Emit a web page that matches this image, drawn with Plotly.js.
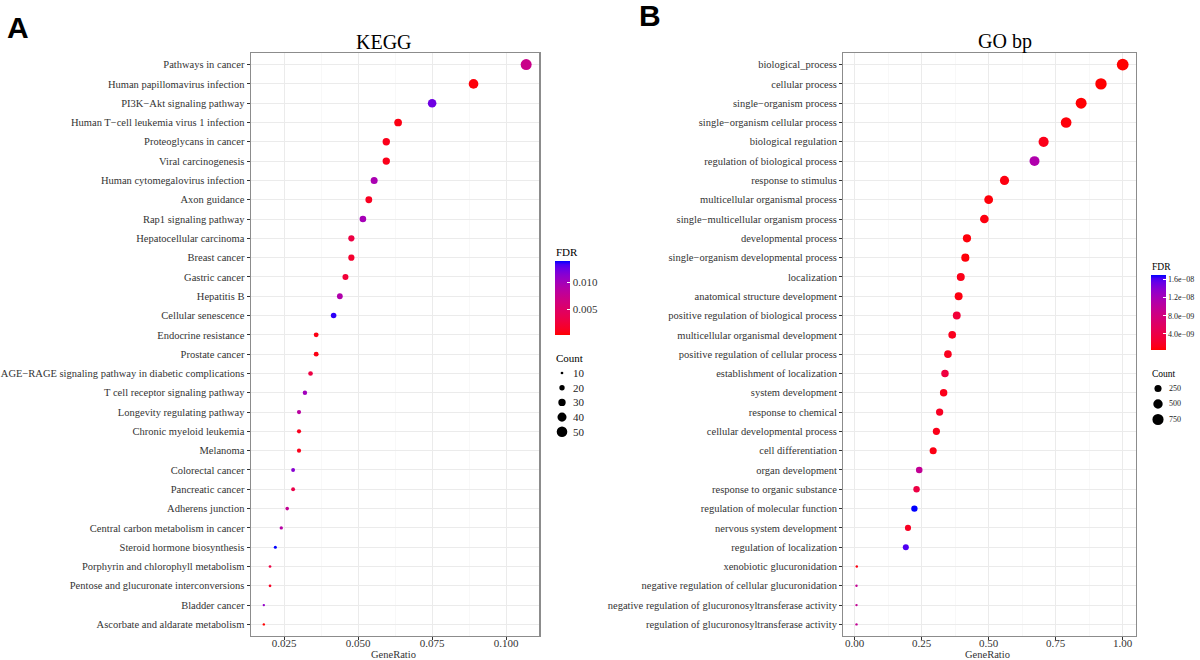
<!DOCTYPE html>
<html>
<head>
<meta charset="utf-8">
<script src="https://cdn.plot.ly/plotly-3.0.1.min.js"></script>
<style>
html,body{margin:0;padding:0;background:#fff;}
#chart{width:1200px;height:660px;}
</style>
</head>
<body>
<div id="chart"></div>
<script>
// ---------------- DATA ----------------
var keggTerms = [
  "Pathways in cancer","Human papillomavirus infection","PI3K\u2212Akt signaling pathway",
  "Human T\u2212cell leukemia virus 1 infection","Proteoglycans in cancer","Viral carcinogenesis",
  "Human cytomegalovirus infection","Axon guidance","Rap1 signaling pathway",
  "Hepatocellular carcinoma","Breast cancer","Gastric cancer","Hepatitis B",
  "Cellular senescence","Endocrine resistance","Prostate cancer",
  "AGE\u2212RAGE signaling pathway in diabetic complications","T cell receptor signaling pathway",
  "Longevity regulating pathway","Chronic myeloid leukemia","Melanoma","Colorectal cancer",
  "Pancreatic cancer","Adherens junction","Central carbon metabolism in cancer",
  "Steroid hormone biosynthesis","Porphyrin and chlorophyll metabolism",
  "Pentose and glucuronate interconversions","Bladder cancer","Ascorbate and aldarate metabolism"
];
var keggRatio = [0.1068,0.0890,0.0750,0.0635,0.0595,0.0595,0.0554,0.0536,0.0516,0.0477,
                 0.0477,0.0457,0.0438,0.0417,0.0358,0.0358,0.0339,0.0320,0.0300,0.0300,
                 0.0300,0.0280,0.0280,0.0260,0.0240,0.0220,0.0202,0.0202,0.0181,0.0181];
var keggCount = [53,44,37,32,30,30,28,27,26,24,24,23,22,21,18,18,17,16,15,15,15,14,14,13,12,11,10,10,9,9];
var keggFDR = [0.0071,0.0005,0.0123,0.0007,0.0009,0.0009,0.0095,0.0012,0.0098,0.0029,
               0.0018,0.0023,0.0091,0.0135,0.0007,0.0007,0.0029,0.0101,0.0084,0.0010,
               0.0009,0.0114,0.0032,0.0077,0.0087,0.0139,0.0029,0.0013,0.0109,0.0002];
var keggFdrTicks = [0.005,0.010];
var keggFdrTickText = ["0.005","0.010"];
var keggCountBreaks = [10,20,30,40,50];

var goTerms = [
  "biological_process","cellular process","single\u2212organism process",
  "single\u2212organism cellular process","biological regulation","regulation of biological process",
  "response to stimulus","multicellular organismal process","single\u2212multicellular organism process",
  "developmental process","single\u2212organism developmental process","localization",
  "anatomical structure development","positive regulation of biological process",
  "multicellular organismal development","positive regulation of cellular process",
  "establishment of localization","system development","response to chemical",
  "cellular developmental process","cell differentiation","organ development",
  "response to organic substance","regulation of molecular function","nervous system development",
  "regulation of localization","xenobiotic glucuronidation",
  "negative regulation of cellular glucuronidation",
  "negative regulation of glucuronosyltransferase activity",
  "regulation of glucuronosyltransferase activity"
];
var goRatio = [1.000,0.919,0.845,0.789,0.705,0.671,0.559,0.500,0.484,0.419,
               0.413,0.396,0.388,0.381,0.364,0.348,0.337,0.332,0.317,0.305,
               0.293,0.241,0.231,0.223,0.199,0.191,0.008,0.007,0.007,0.007];
var goCount = [850,781,718,671,599,570,475,425,411,356,351,337,330,324,309,296,286,282,269,259,
               249,205,196,190,169,162,7,6,6,6];
var goFDR = [5.0e-10,5.2e-10,6.0e-10,8.0e-10,1.3e-9,1.12e-8,1.0e-9,8.0e-10,1.0e-9,8.0e-10,
             8.0e-10,1.3e-9,1.0e-9,3.0e-9,1.5e-9,1.5e-9,3.5e-9,1.3e-9,1.8e-9,1.3e-9,
             1.1e-9,9.5e-9,3.8e-9,1.69e-8,1.8e-9,1.6e-8,1.0e-9,9.5e-9,9.5e-9,9.5e-9];
var goFdrTicks = [4e-9,8e-9,1.2e-8,1.6e-8];
var goFdrTickText = ["4.0e\u221209","8.0e\u221209","1.2e\u221208","1.6e\u221208"];
var goCountBreaks = [250,500,750];

// ---------------- HELPERS ----------------
var W = 1200, H = 660;
function px(x){ return x / W; }
function py(y){ return 1 - y / H; }

// Lab-space gradient red -> blue (like ggplot2 scale_colour_gradient)
function s2l(c){ c/=255; return c<=0.04045 ? c/12.92 : Math.pow((c+0.055)/1.055,2.4); }
function l2s(c){ var v = c<=0.0031308 ? 12.92*c : 1.055*Math.pow(c,1/2.4)-0.055; return Math.round(Math.max(0,Math.min(1,v))*255); }
function rgb2lab(r,g,b){
  var R=s2l(r),G=s2l(g),B=s2l(b);
  var X=(0.4124*R+0.3576*G+0.1805*B)/0.95047, Y=0.2126*R+0.7152*G+0.0722*B, Z=(0.0193*R+0.1192*G+0.9505*B)/1.08883;
  function f(t){ return t>0.008856 ? Math.cbrt(t) : 7.787*t+16/116; }
  var fx=f(X),fy=f(Y),fz=f(Z);
  return [116*fy-16, 500*(fx-fy), 200*(fy-fz)];
}
function lab2rgb(L,a,b){
  var fy=(L+16)/116, fx=fy+a/500, fz=fy-b/200;
  function fi(f){ var f3=f*f*f; return f3>0.008856 ? f3 : (f-16/116)/7.787; }
  var X=0.95047*fi(fx), Y=fi(fy), Z=1.08883*fi(fz);
  var R=3.2406*X-1.5372*Y-0.4986*Z, G=-0.9689*X+1.8758*Y+0.0415*Z, B=0.0557*X-0.2040*Y+1.0570*Z;
  return 'rgb('+l2s(R)+','+l2s(G)+','+l2s(B)+')';
}
var labLow = rgb2lab(255,0,0), labHigh = rgb2lab(0,0,255);
var cscale = [];
for (var i=0;i<=20;i++){
  var t=i/20;
  cscale.push([t, lab2rgb(labLow[0]+(labHigh[0]-labLow[0])*t, labLow[1]+(labHigh[1]-labLow[1])*t, labLow[2]+(labHigh[2]-labLow[2])*t)]);
}

function sizeMapper(counts, dmin, dmax){
  var lo=Math.sqrt(Math.min.apply(null,counts)), hi=Math.sqrt(Math.max.apply(null,counts));
  return function(c){ return dmin + (dmax-dmin)*(Math.sqrt(c)-lo)/(hi-lo); };
}
function expandRange(v){
  var lo=Math.min.apply(null,v), hi=Math.max.apply(null,v), e=(hi-lo)*0.05;
  return [lo-e, hi+e];
}

var keggSize = sizeMapper(keggCount, 2.4, 11.0);
var goSize = sizeMapper(goCount, 2.4, 11.8);

var serif = "Liberation Serif, Times New Roman, serif";
var txt = '#333333';

function fdrMin(a){ return Math.min.apply(null,a); }
function fdrMax(a){ return Math.max.apply(null,a); }

var traces = [
  {
    type:'scatter', mode:'markers', x:keggRatio, y:keggTerms, xaxis:'x', yaxis:'y',
    marker:{
      size:keggCount.map(keggSize), color:keggFDR, colorscale:cscale,
      cmin:fdrMin(keggFDR), cmax:fdrMax(keggFDR), opacity:1, line:{width:0},
      showscale:true,
      colorbar:{x:px(555), xanchor:'left', xpad:0, y:py(261), yanchor:'top', ypad:0,
        len:74, lenmode:'pixels', thickness:15, thicknessmode:'pixels', outlinewidth:0,
        tickvals:keggFdrTicks, ticktext:keggFdrTickText, ticks:'inside', ticklen:3, tickcolor:'#ffffff',
        tickfont:{family:serif, size:11, color:txt}}
    },
    hoverinfo:'skip', showlegend:false
  },
  {
    type:'scatter', mode:'markers', x:goRatio, y:goTerms, xaxis:'x2', yaxis:'y2',
    marker:{
      size:goCount.map(goSize), color:goFDR, colorscale:cscale,
      cmin:fdrMin(goFDR), cmax:fdrMax(goFDR), opacity:1, line:{width:0},
      showscale:true,
      colorbar:{x:px(1151), xanchor:'left', xpad:0, y:py(275), yanchor:'top', ypad:0,
        len:75, lenmode:'pixels', thickness:15, thicknessmode:'pixels', outlinewidth:0,
        tickvals:goFdrTicks, ticktext:goFdrTickText, ticks:'inside', ticklen:3, tickcolor:'#ffffff',
        tickfont:{family:serif, size:8, color:'#222'}}
    },
    hoverinfo:'skip', showlegend:false
  }
];

function xaxisDef(domain, range, dtick, fmt, anchor){
  return {domain:domain, range:range, anchor:anchor, dtick:dtick, tick0:0, tickformat:fmt,
    showgrid:true, gridcolor:'#EBEBEB', gridwidth:1, zeroline:false,
    minor:{dtick:dtick/2, tick0:0, showgrid:true, gridcolor:'#F4F4F4', gridwidth:0.6, ticks:''},
    showline:true, mirror:true, linecolor:'#8c8c8c', linewidth:1.2,
    ticks:'outside', ticklen:3, tickcolor:'#333', tickwidth:1, ticklabelstandoff:-6,
    tickfont:{family:serif, size:11, color:txt}, fixedrange:true};
}
function yaxisDef(n, anchor, cats){
  return {domain:[py(636), py(53)], anchor:anchor, type:'category',
    categoryorder:'array', categoryarray:cats,
    range:[n-0.4, -0.6], showgrid:true, gridcolor:'#EBEBEB', gridwidth:1, zeroline:false,
    showline:true, mirror:true, linecolor:'#8c8c8c', linewidth:1.2,
    ticks:'outside', ticklen:3, tickcolor:'#333', tickwidth:1,
    tickfont:{family:serif, size:10.5, color:txt}, fixedrange:true};
}

var annotations = [
  {text:'<b>A</b>', x:px(17.5), y:py(27.5), xref:'paper', yref:'paper', xanchor:'center', yanchor:'middle', showarrow:false,
   font:{family:'Liberation Sans, Arial, sans-serif', size:30, color:'#000'}},
  {text:'<b>B</b>', x:px(650), y:py(15.5), xref:'paper', yref:'paper', xanchor:'center', yanchor:'middle', showarrow:false,
   font:{family:'Liberation Sans, Arial, sans-serif', size:30, color:'#000'}},
  {text:'KEGG', x:px(383.5), y:py(42), xref:'paper', yref:'paper', xanchor:'center', yanchor:'middle', showarrow:false,
   font:{family:serif, size:20, color:'#000'}},
  {text:'GO bp', x:px(1005), y:py(42), xref:'paper', yref:'paper', xanchor:'center', yanchor:'middle', showarrow:false,
   font:{family:serif, size:20, color:'#000'}},
  {text:'GeneRatio', x:px(393), y:py(654), xref:'paper', yref:'paper', xanchor:'center', yanchor:'middle', showarrow:false,
   font:{family:serif, size:10.5, color:txt}},
  {text:'GeneRatio', x:px(987), y:py(654), xref:'paper', yref:'paper', xanchor:'center', yanchor:'middle', showarrow:false,
   font:{family:serif, size:10.5, color:txt}},
  {text:'FDR', x:px(554), y:py(252), xref:'paper', yref:'paper', xanchor:'left', yanchor:'middle', showarrow:false,
   font:{family:serif, size:11, color:'#000'}},
  {text:'Count', x:px(554), y:py(358), xref:'paper', yref:'paper', xanchor:'left', yanchor:'middle', showarrow:false,
   font:{family:serif, size:11, color:'#000'}},
  {text:'FDR', x:px(1150), y:py(267), xref:'paper', yref:'paper', xanchor:'left', yanchor:'middle', showarrow:false,
   font:{family:serif, size:9.5, color:'#000'}},
  {text:'Count', x:px(1150), y:py(374), xref:'paper', yref:'paper', xanchor:'left', yanchor:'middle', showarrow:false,
   font:{family:serif, size:9.5, color:'#000'}}
];
var shapes = [];
function sizeLegend(breaks, mapper, cx, y0, step, labelX, fs){
  breaks.forEach(function(b, i){
    var d = mapper(b), cy = y0 + i*step;
    shapes.push({type:'circle', xref:'paper', yref:'paper', xsizemode:'pixel', ysizemode:'pixel',
      xanchor:px(cx), yanchor:py(cy), x0:-d/2, x1:d/2, y0:-d/2, y1:d/2,
      fillcolor:'#000', line:{width:0}});
    annotations.push({text:String(b), x:px(labelX), y:py(cy), xref:'paper', yref:'paper',
      xanchor:'left', yanchor:'middle', showarrow:false, font:{family:serif, size:fs, color:'#222'}});
  });
}
sizeLegend(keggCountBreaks, keggSize, 562, 373, 14.7, 571, 11);
sizeLegend(goCountBreaks, goSize, 1158, 388.5, 15.5, 1167, 8);

var layout = {
  width:W, height:H, margin:{l:0,r:0,t:0,b:0}, paper_bgcolor:'#fff', plot_bgcolor:'#fff',
  showlegend:false,
  xaxis: xaxisDef([px(250.7), px(539.3)], expandRange(keggRatio), 0.025, '.3f', 'y'),
  yaxis: yaxisDef(keggTerms.length, 'x', keggTerms),
  xaxis2: xaxisDef([px(843.2), px(1136)], expandRange(goRatio), 0.25, '.2f', 'y2'),
  yaxis2: yaxisDef(goTerms.length, 'x2', goTerms),
  annotations:annotations, shapes:shapes
};

Plotly.newPlot('chart', traces, layout, {staticPlot:true, displayModeBar:false});
</script>
</body>
</html>
